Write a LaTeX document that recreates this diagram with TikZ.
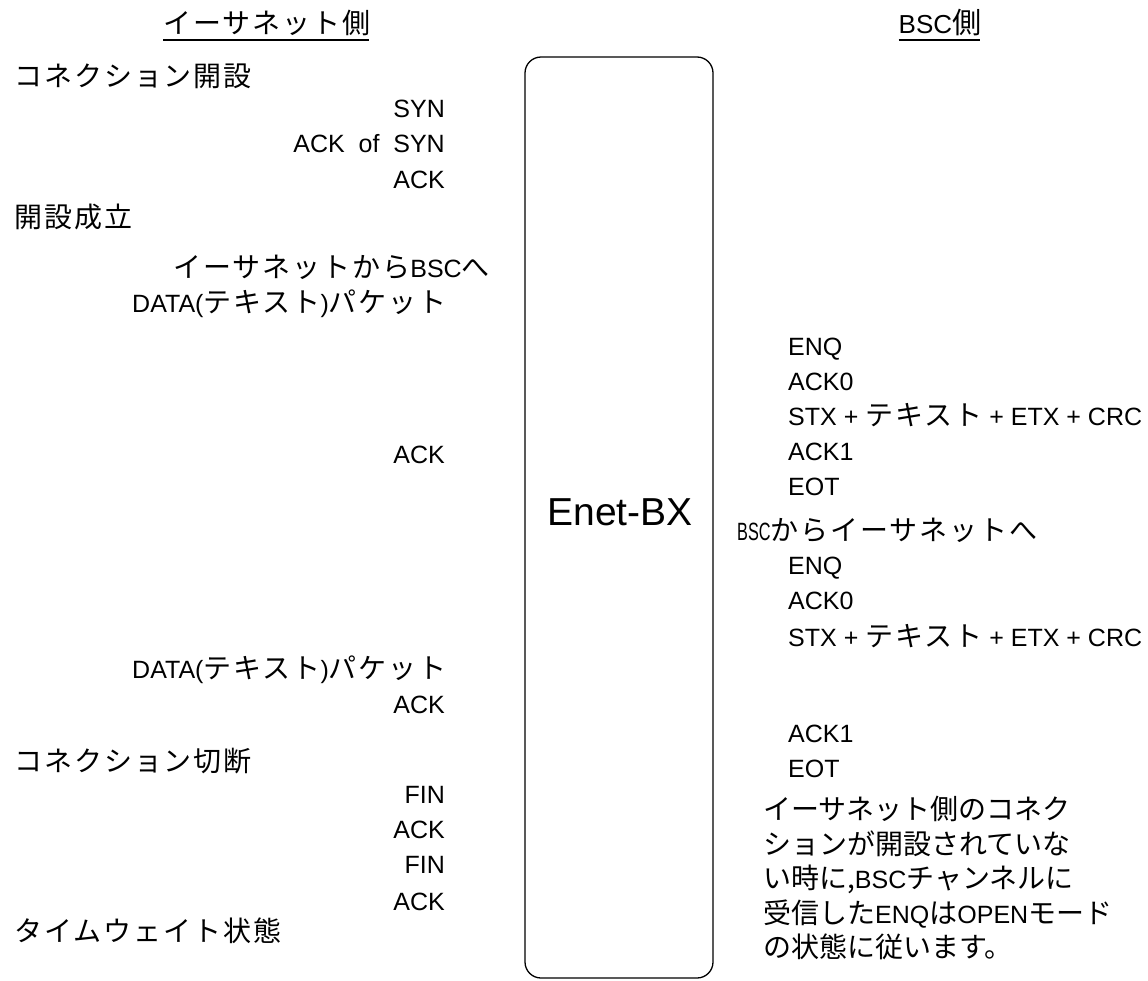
\documentclass[tikz,border=0pt]{standalone}
\usepackage{fontspec}
\setmainfont{Liberation Sans}
\newfontfamily\jfont{Noto Sans CJK JP}[LetterSpace=7,Scale=1.12]
\newfontfamily\jnotefont{Noto Sans CJK JP}[Scale=1.12]
\newcommand\J[1]{{\jfont #1}}
\newcommand\JN[1]{{\jnotefont #1}}
\usetikzlibrary{positioning,calc}

\tikzset{
  txt/.style={inner sep=0pt, font=\fontsize{25}{30}\selectfont},
  lw/.style={txt, anchor=base west},
  le/.style={txt, anchor=base east},
  ulink/.style={line width=1.2pt},
}

\begin{document}
\begin{tikzpicture}[x=1pt,y=-1pt]
\useasboundingbox (0,0) rectangle (1148,980);
% Enet-BX box
\node[draw, line width=1.3pt, rounded corners=16pt, minimum width=188pt, minimum height=921pt] (enet) at (619,517.5) {};
\node[inner sep=0pt, font=\fontsize{39}{44}\selectfont] (enetLbl) at (620,512) {Enet-BX};
% headers
\node[txt, anchor=base] (hdrL) at (267,33) {\J{イーサネット側}};
\node[txt, anchor=base, font=\fontsize{26}{30}\selectfont] (hdrR) at (940,33) {BSC\J{側}};
\draw[ulink] ($(hdrL.base west)+(0,7)$) -- ($(hdrL.base east)+(-2,7)$);
\draw[ulink] ($(hdrR.base west)+(0,7)$) -- ($(hdrR.base east)+(-2,7)$);
% Ethernet side
\node[lw] (conOpen) at (14,86) {\J{コネクション開設}};
\node[le] (syn) at (445,117) {SYN};
\node[le] (ackSyn) at (445,152) {ACK\ \ of\ \ SYN};
\node[le] (ackA) at (445,188) {ACK};
\node[lw] (estab) at (14,227) {\J{開設成立}};
\node[le] (eToB) at (490,277) {\J{イーサネットから}BSC\J{へ}};
\node[lw] (dataA) at (132,312) {DATA(\J{テキスト})\J{パケット}};
\node[le] (ackB) at (445,463) {ACK};
\node[lw] (dataB) at (132,678) {DATA(\J{テキスト})\J{パケット}};
\node[le] (ackC) at (445,713) {ACK};
\node[lw] (conClose) at (14,771) {\J{コネクション切断}};
\node[le] (finA) at (445,803) {FIN};
\node[le] (ackD) at (445,838) {ACK};
\node[le] (finB) at (445,873) {FIN};
\node[le] (ackE) at (445,910) {ACK};
\node[lw] (tWait) at (14,941) {\J{タイムウェイト状態}};
% BSC side
\node[lw] (enqA) at (788,355) {ENQ};
\node[lw] (ackZA) at (788,390) {ACK0};
\node[lw] (stxA) at (788,425) {STX + \J{テキスト} + ETX + CRC};
\node[lw] (ackOA) at (788,460) {ACK1};
\node[lw] (eotA) at (788,495) {EOT};
\node[lw] (bToE) at (737,540) {\scalebox{0.65}[1]{BSC}\J{からイーサネットへ}};
\node[lw] (enqB) at (788,574) {ENQ};
\node[lw] (ackZB) at (788,609) {ACK0};
\node[lw] (stxB) at (788,646) {STX + \J{テキスト} + ETX + CRC};
\node[lw] (ackOB) at (788,742) {ACK1};
\node[lw] (eotB) at (788,777) {EOT};
\node[txt, anchor=north west, align=left, font=\fontsize{25}{34.5}\selectfont] (note) at (763,796)
  {\JN{イーサネット側のコネク}\\
   \JN{ションが開設されていな}\\
   \JN{い時に,}BSC\JN{チャンネルに}\\
   \JN{受信した}ENQ\JN{は}OPEN\JN{モード}\\
   \JN{の状態に従います。}};
\end{tikzpicture}
\end{document}
